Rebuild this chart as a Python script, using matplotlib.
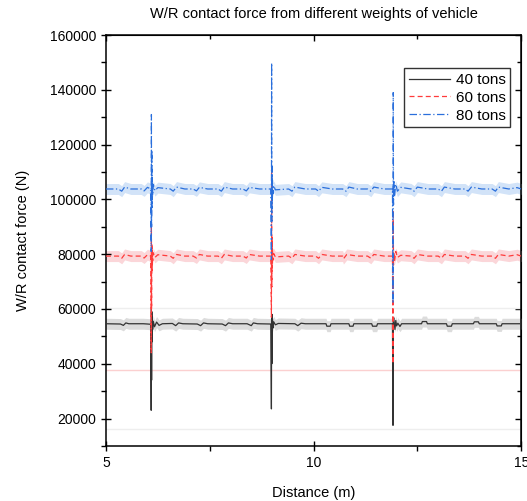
import numpy as np
import matplotlib.pyplot as plt
from matplotlib.ticker import MultipleLocator

plt.rcParams['font.family'] = ['Liberation Sans', 'DejaVu Sans']

# 40 tons (black, solid)
x40 = [5.0, 5.35, 5.42, 5.48, 5.55, 5.9, 6.0, 6.08, 6.090, 6.095, 6.100, 6.105, 6.110, 6.115, 6.125,
       6.14, 6.17, 6.22, 6.28, 6.36, 6.60, 6.68, 6.75, 6.85, 7.20, 7.28, 7.35, 7.45, 7.80, 7.88,
       7.95, 8.05, 8.40, 8.50, 8.55, 8.65, 8.97, 8.985, 8.990, 8.995, 9.000, 9.005, 9.010, 9.02, 9.04,
       9.08, 9.15, 9.55, 9.62, 9.70, 9.80, 10.10, 10.30, 10.32, 10.40, 10.42, 10.85, 10.87, 10.95,
       10.97, 11.40, 11.42, 11.52, 11.54, 11.90, 11.913, 11.918, 11.93, 11.96, 11.98, 12.00, 12.03,
       12.08, 12.12, 12.60, 12.62, 12.72, 12.74, 13.20, 13.22, 13.32, 13.34, 13.85, 13.87, 13.97,
       13.99, 14.40, 14.42, 14.52, 14.54, 15.0]
y40 = [54600, 54500, 54000, 54900, 54600, 54600, 54500, 54400, 23000, 60000, 34000, 59000, 48000,
       57000, 52500, 55500, 53500, 55200, 54000, 54600, 54700, 53900, 54900, 54600, 54500, 53900,
       54900, 54600, 54500, 53900, 54900, 54600, 54600, 53900, 54900, 54600, 54500, 23500, 58000,
       40000, 58000, 50000, 56500, 53000, 55300, 54200, 54700, 54600, 53900, 54800, 54600, 54600,
       54600, 53700, 53700, 54600, 54600, 53700, 53700, 54600, 54600, 53700, 53700, 54600, 54600,
       17500, 55500, 56800, 52500, 55800, 53800, 54800, 53600, 54600, 54600, 55400, 55400, 54600,
       54600, 53700, 53700, 54600, 54600, 55300, 55300, 54600, 54600, 53800, 53800, 54600, 54600]

# 60 tons (red, dashed)
x60 = [5.0, 5.30, 5.38, 5.45, 5.60, 5.85, 5.92, 6.0, 6.08, 6.090, 6.095, 6.100, 6.105, 6.110, 6.115,
       6.125, 6.14, 6.18, 6.25, 6.55, 6.62, 6.70, 6.90, 7.10, 7.18, 7.25, 7.45, 7.70, 7.78, 7.85,
       8.05, 8.30, 8.38, 8.45, 8.70, 8.97, 8.985, 8.990, 8.995, 9.000, 9.005, 9.010, 9.02, 9.04, 9.08,
       9.40, 9.48, 9.55, 9.80, 10.05, 10.12, 10.20, 10.45, 10.70, 10.72, 10.80, 11.05, 11.30,
       11.38, 11.45, 11.70, 11.90, 11.913, 11.918, 11.925, 11.935, 11.95, 11.98, 12.02, 12.10, 12.35,
       12.42, 12.50, 12.75, 13.00, 13.08, 13.15, 13.40, 13.65, 13.72, 13.80, 14.05, 14.30, 14.38,
       14.45, 14.70, 14.90, 15.0]
y60 = [79300, 79300, 78500, 79900, 79300, 79300, 78600, 79800, 79300, 44000, 90000, 60000, 84000,
       74000, 82000, 77500, 80500, 78800, 79800, 79300, 78500, 79900, 79300, 79300, 78600, 79900,
       79300, 79300, 78500, 79900, 79300, 79300, 78600, 79900, 79300, 79300, 57000, 112000, 68000,
       86000, 75000, 82500, 77800, 80200, 79000, 79300, 78500, 79900, 79300, 79300, 78500, 79900,
       79300, 79300, 78300, 79900, 79300, 79300, 78500, 79900, 79300, 79300, 40000, 96000, 76000,
       80500, 77500, 81000, 78800, 79600, 79300, 78500, 79900, 79300, 79300, 78500, 79900, 79300,
       79300, 78500, 79900, 79300, 79300, 78500, 79900, 79300, 79800, 79300]

# 80 tons (blue, dash-dot)
x80 = [5.0, 5.30, 5.38, 5.45, 5.60, 5.85, 5.92, 6.0, 6.08, 6.090, 6.095, 6.100, 6.105, 6.110, 6.115,
       6.125, 6.14, 6.18, 6.25, 6.55, 6.62, 6.70, 6.90, 7.10, 7.18, 7.25, 7.45, 7.70, 7.78, 7.85,
       8.05, 8.30, 8.38, 8.45, 8.70, 8.97, 8.985, 8.990, 8.995, 9.000, 9.005, 9.010, 9.02, 9.04, 9.08,
       9.40, 9.48, 9.55, 9.80, 10.05, 10.12, 10.20, 10.45, 10.70, 10.78, 10.85, 11.05, 11.30,
       11.38, 11.45, 11.70, 11.90, 11.913, 11.918, 11.925, 11.935, 11.95, 11.98, 12.02, 12.10, 12.35,
       12.42, 12.50, 12.75, 13.00, 13.08, 13.15, 13.40, 13.65, 13.72, 13.80, 14.05, 14.30, 14.38,
       14.45, 14.70, 14.90, 15.0]
y80 = [103800, 103800, 103000, 104500, 103800, 103800, 103100, 104400, 103800, 81000, 131000,
       90000, 118000, 97000, 108000, 101500, 105500, 103200, 104300, 103800, 103000, 104500,
       103800, 103800, 103100, 104400, 103800, 103800, 103000, 104500, 103800, 103800, 103100,
       104400, 103800, 103800, 78000, 149800, 92000, 112000, 99000, 107000, 102000, 105000, 103500,
       103800, 103000, 104500, 103800, 103800, 103000, 104400, 103800, 103800, 103000, 104500,
       103800, 103800, 103000, 104500, 103800, 103800, 62000, 139000, 98000, 106500, 101500,
       105500, 103000, 104400, 103800, 103000, 104500, 103800, 103800, 103000, 104500, 103800,
       103800, 103000, 104500, 103800, 103800, 103000, 104500, 103800, 104300, 103800]

labels = ['40 tons', '60 tons', '80 tons']
band_half = [2000, 2000, 2000]
faint_levels = [60500, 37700, 16200]

line_colors = ['#333333', '#ff3b3b', '#2a6fdc']
band_colors = ['#dcdcdc', '#fbd6d9', '#d2e3f8']
faint_colors = ['#eeeeee', '#fbd0d0', '#eeeeee']
styles = ['-', (0, (4, 2.5)), (0, (6, 2, 1, 2))]

fig = plt.figure(figsize=(5.27, 5.01), dpi=100)
ax = fig.add_axes([0.201, 0.110, 0.788, 0.820])

series = [(x40, y40), (x60, y60), (x80, y80)]
for i, (xs, ys) in enumerate(series):
    xs = np.array(xs)
    ys = np.array(ys, dtype=float)
    base = np.median(ys)
    center = np.clip(ys, base - 900, base + 900)
    ax.fill_between(xs, center - band_half[i], center + band_half[i],
                    color=band_colors[i], lw=0, zorder=1)

for lvl, c in zip(faint_levels, faint_colors):
    ax.axhline(lvl, color=c, lw=1, zorder=1)

for i, (xs, ys) in enumerate(series):
    ax.plot(xs, ys, color=line_colors[i], ls=styles[i], lw=0.9, label=labels[i], zorder=3)

ax.set_xlim(5, 15)
ax.set_ylim(10000, 160000)
ax.xaxis.set_major_locator(MultipleLocator(5))
ax.xaxis.set_minor_locator(MultipleLocator(2.5))
ax.yaxis.set_major_locator(MultipleLocator(20000))
ax.yaxis.set_minor_locator(MultipleLocator(10000))
ax.tick_params(which='major', direction='inout', length=7, width=1, labelsize=10)
ax.tick_params(which='minor', direction='out', length=3.5, width=1)
for s in ax.spines.values():
    s.set_linewidth(1.1)

# mirrored ticks on top and right point inward
top = ax.secondary_xaxis('top')
top.xaxis.set_major_locator(MultipleLocator(5))
top.xaxis.set_minor_locator(MultipleLocator(2.5))
top.tick_params(which='major', direction='in', length=4, width=1, labeltop=False)
top.tick_params(which='minor', direction='in', length=3, width=1)
right = ax.secondary_yaxis('right')
right.yaxis.set_major_locator(MultipleLocator(20000))
right.yaxis.set_minor_locator(MultipleLocator(10000))
right.tick_params(which='major', direction='in', length=4, width=1, labelright=False)
right.tick_params(which='minor', direction='in', length=3, width=1)

ax.set_title('W/R contact force from different weights of vehicle', fontsize=10.5, pad=12)
ax.set_xlabel('Distance (m)', fontsize=10.5, labelpad=12)
ax.set_ylabel('W/R contact force (N)', fontsize=10.5, labelpad=14)

leg = ax.legend(loc='upper right', bbox_to_anchor=(0.985, 0.93), fontsize=11,
                frameon=True, fancybox=False, edgecolor='black', handlelength=2.7,
                borderpad=0.3, labelspacing=0.25, handletextpad=0.4, borderaxespad=0.3)
leg.get_frame().set_linewidth(1.0)

fig.savefig('out.png', dpi=100)
